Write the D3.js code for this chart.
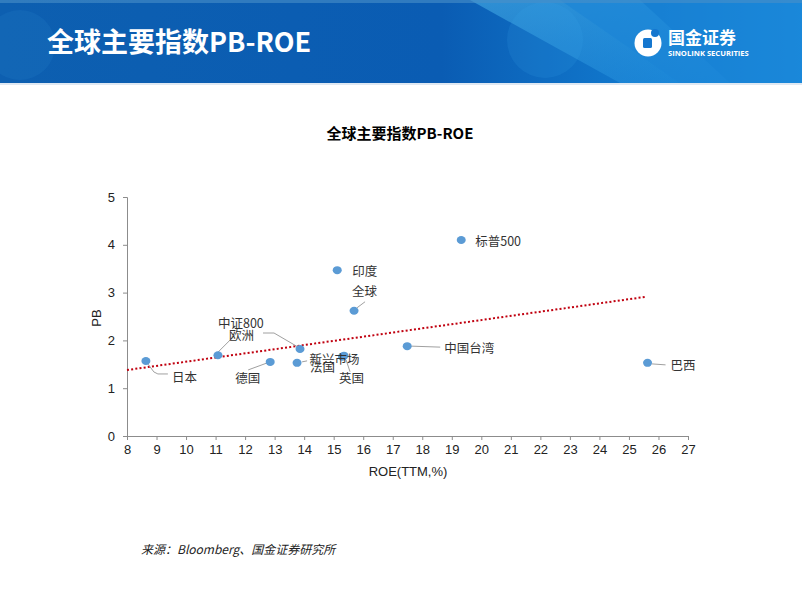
<!DOCTYPE html>
<html>
<head>
<meta charset="utf-8">
<script src="https://cdn.jsdelivr.net/npm/d3@7"></script>
<style>
html,body{margin:0;padding:0;background:#fff;}
svg{display:block;}
</style>
</head>
<body>
<script>
// ---- data ----
const names = ["日本","中证800","德国","法国","欧洲","新兴市场","英国","全球","印度","标普500","中国台湾","巴西"];
const roe   = [8.64, 11.08, 12.85, 13.76, 13.86, 15.30, 15.35, 15.69, 15.12, 19.32, 17.49, 25.63];
const pb    = [1.57, 1.69, 1.55, 1.53, 1.82, 1.66, 1.68, 2.62, 3.47, 4.10, 1.88, 1.53];
const trendRoe = [8, 25.55];
const trendPb  = [1.38, 2.91];
const xTicks = d3.range(8, 28, 1);
const yTicks = [0, 1, 2, 3, 4, 5];
const chartTitle = "全球主要指数PB-ROE";
const xTitle = "ROE(TTM,%)";
const yTitle = "PB";
const source = "来源：Bloomberg、国金证券研究所";

// ---- label layout (offsets relative to point) ----
const labelLayout = {
  "日本":   {dx: 26, dy: 16, leader: [[2,3],[8,11],[12,13],[22,13]]},
  "中证800":{dx: 0,  dy: -33, leader: [[0,-3],[17,-20]]},
  "欧洲":   {dx: -71, dy: -15, leader: [[-2,-2],[-26,-16],[-37,-16]]},
  "德国":   {dx: -35, dy: 16, leader: [[-3,1],[-22,8]]},
  "法国":   {dx: 13, dy: 4, leader: [[5,-1],[10,-2]]},
  "新兴市场":{dx: -33, dy: 2, leader: null},
  "英国":   {dx: -5, dy: 22, leader: [[2,4],[6,16]]},
  "全球":   {dx: -2, dy: -20, leader: [[3,-3],[11,-9]]},
  "印度":   {dx: 15, dy: 0, leader: null},
  "标普500":{dx: 14, dy: 0, leader: null},
  "中国台湾":{dx: 37, dy: 1, leader: [[4,0],[33,1]]},
  "巴西":   {dx: 23, dy: 2, leader: [[4,1],[18,2]]}
};

const W = 802, H = 602;
const svg = d3.select("body").append("svg").attr("width", W).attr("height", H);
const defs = svg.append("defs");
defs.append("clipPath").attr("id","hclip").append("rect").attr("x",0).attr("y",0).attr("width",W).attr("height",83);

// ---- header banner ----
const hdr = svg.append("g").attr("clip-path","url(#hclip)");
const g1 = defs.append("linearGradient").attr("id","hdr").attr("x1","0").attr("x2","1").attr("y1","0").attr("y2","0");
g1.append("stop").attr("offset","0").attr("stop-color","#0d5fb0");
g1.append("stop").attr("offset","0.55").attr("stop-color","#0a5cb3");
g1.append("stop").attr("offset","0.75").attr("stop-color","#1074c9");
g1.append("stop").attr("offset","1").attr("stop-color","#1a8ee0");
hdr.append("rect").attr("x",0).attr("y",0).attr("width",W).attr("height",83).attr("fill","url(#hdr)");
const g2 = defs.append("linearGradient").attr("id","hl").attr("x1","0").attr("x2","1").attr("y1","0").attr("y2","1");
g2.append("stop").attr("offset","0").attr("stop-color","#5cc8f5").attr("stop-opacity",0.9);
g2.append("stop").attr("offset","1").attr("stop-color","#2a9ae6").attr("stop-opacity",0.5);
hdr.append("path").attr("d","M470,0 L640,0 L730,83 L620,83 Z").attr("fill","url(#hl)").attr("opacity",0.5);
hdr.append("path").attr("d","M560,0 L802,0 L802,83 L680,83 Z").attr("fill","#1a84d6").attr("opacity",0.6);
hdr.append("circle").attr("cx",545).attr("cy",40).attr("r",38).attr("fill","#3aa8ea").attr("opacity",0.15);
hdr.append("circle").attr("cx",20).attr("cy",45).attr("r",35).attr("fill","#2a80cc").attr("opacity",0.2);
hdr.append("rect").attr("x",0).attr("y",0).attr("width",W).attr("height",3).attr("fill","#4a90c8").attr("opacity",0.6);
svg.append("rect").attr("x",0).attr("y",83).attr("width",W).attr("height",2).attr("fill","#dfe8f2");

svg.append("text").attr("x",47).attr("y",52)
  .attr("font-family","'Noto Sans CJK SC', sans-serif").attr("font-weight","bold")
  .attr("font-size",27).attr("fill","#fff").text("全球主要指数PB-ROE");

// logo
const logo = svg.append("g");
logo.append("circle").attr("cx",648).attr("cy",43).attr("r",13.5).attr("fill","#fff");
logo.append("circle").attr("cx",655).attr("cy",33).attr("r",4).attr("fill","#1577cf");
logo.append("rect").attr("x",643).attr("y",38).attr("width",9).attr("height",10).attr("rx",1.5).attr("fill","#1577cf");
logo.append("text").attr("x",668).attr("y",44)
  .attr("font-family","'Noto Sans CJK SC', sans-serif").attr("font-weight","bold")
  .attr("font-size",17).attr("fill","#fff").text("国金证券");
logo.append("text").attr("x",668).attr("y",56)
  .attr("font-family","'Open Sans', 'Liberation Sans', sans-serif").attr("font-weight","bold")
  .attr("font-size",7.6).attr("fill","#fff").text("SINOLINK SECURITIES");

// ---- chart ----
const x = d3.scaleLinear().domain([8, 27]).range([127, 688]);
const y = d3.scaleLinear().domain([0, 5]).range([436, 197]);
const axisFont = "'Liberation Sans', Arial, sans-serif";
const cjk = "'Noto Sans CJK SC', sans-serif";

svg.append("text").attr("x",400).attr("y",139).attr("text-anchor","middle")
  .attr("font-family",cjk).attr("font-weight","bold").attr("font-size",15).attr("fill","#000")
  .text(chartTitle);

const xAxis = svg.append("g").attr("transform","translate(0,436)")
  .call(d3.axisBottom(x).tickValues(xTicks).tickSize(4).tickPadding(5).tickFormat(d3.format("d")));
const yAxis = svg.append("g").attr("transform","translate(127,0)")
  .call(d3.axisLeft(y).tickValues(yTicks).tickSize(4).tickPadding(8).tickFormat(d3.format("d")));
[xAxis, yAxis].forEach(a => {
  a.select(".domain").attr("stroke","#8c8c8c");
  a.selectAll(".tick line").attr("stroke","#8c8c8c");
  a.selectAll(".tick text").attr("font-family",axisFont).attr("font-size",13).attr("fill","#222");
});

svg.append("text").attr("x",408).attr("y",476).attr("text-anchor","middle")
  .attr("font-family",axisFont).attr("font-size",13).attr("fill","#222").text(xTitle);
svg.append("text").attr("transform","translate(101,318) rotate(-90)").attr("text-anchor","middle")
  .attr("font-family",axisFont).attr("font-size",13).attr("fill","#222").text(yTitle);

// trend line
svg.append("line")
  .attr("x1",x(trendRoe[0])).attr("y1",y(trendPb[0]))
  .attr("x2",x(trendRoe[1])).attr("y2",y(trendPb[1]))
  .attr("stroke","#c0000f").attr("stroke-width",2).attr("stroke-dasharray","2,2.2");

const pts = names.map((n,i)=>({name:n, roe:roe[i], pb:pb[i]}));

// leaders
const line = d3.line();
svg.append("g").selectAll("path").data(pts.filter(d=>labelLayout[d.name].leader)).join("path")
  .attr("d", d => { const px=x(d.roe), py=y(d.pb); return line(labelLayout[d.name].leader.map(p=>[px+p[0], py+p[1]])); })
  .attr("fill","none").attr("stroke","#a0a0a0").attr("stroke-width",1);

// points
svg.append("g").selectAll("ellipse").data(pts).join("ellipse")
  .attr("cx", d=>x(d.roe)).attr("cy", d=>y(d.pb)).attr("rx",4.5).attr("ry",4)
  .attr("fill","#5b9bd5");

// labels
svg.append("g").selectAll("text").data(pts).join("text")
  .attr("x", d=>x(d.roe)+labelLayout[d.name].dx)
  .attr("y", d=>y(d.pb)+labelLayout[d.name].dy)
  .attr("dominant-baseline","central")
  .attr("font-family",cjk).attr("font-size",12.5).attr("fill","#333")
  .text(d=>d.name);

// source
svg.append("text").attr("x",141).attr("y",554)
  .attr("font-family","'Noto Sans CJK SC', 'Liberation Sans', sans-serif").attr("font-style","italic")
  .attr("font-size",12).attr("fill","#222").text(source);
</script>
</body>
</html>
